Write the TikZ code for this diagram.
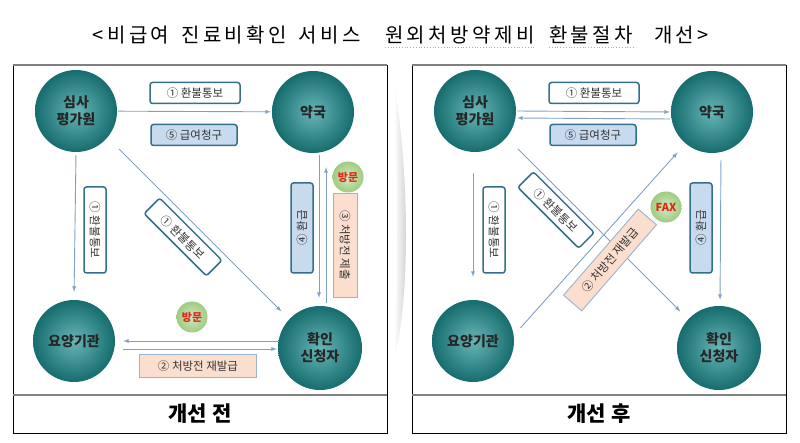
\documentclass[tikz,border=0pt]{standalone}
\usepackage{fontspec}
\setmainfont{Noto Sans CJK KR}
\usetikzlibrary{arrows}
\definecolor{orgteal}{RGB}{38,150,152}
\definecolor{orgdark}{RGB}{22,108,110}
\definecolor{tagline}{RGB}{52,112,140}
\definecolor{tagblue}{RGB}{200,218,238}
\definecolor{tagpeach}{RGB}{251,222,206}
\definecolor{flow}{RGB}{128,160,200}
\definecolor{visitgreen}{RGB}{158,204,128}
\definecolor{visitred}{RGB}{225,40,20}
\begin{document}
\begin{tikzpicture}[x=1pt, y=-1pt,
    org/.style={circle, minimum size=82pt, inner sep=0pt, inner color=orgteal!70!white, outer color=orgdark,
                font=\fontsize{14}{17}\selectfont\bfseries, text=black!85, align=center},
    tag/.style={draw=tagline, line width=1.5pt, rounded corners=2.5pt, fill=white, inner sep=0pt,
                minimum height=21pt, font=\fontsize{11.5}{12}\selectfont, text=black!80},
    pin/.style={draw=flow!80, line width=0.9pt, fill=tagpeach, inner sep=0pt,
                minimum height=23pt, font=\fontsize{11.5}{12}\selectfont, text=black!80},
    visit/.style={circle, minimum size=31pt, inner sep=0pt, inner color=visitgreen!45!white, outer color=visitgreen,
                font=\fontsize{11}{12}\selectfont\bfseries, text=visitred},
    head/.style={inner sep=0pt, font=\fontsize{20}{24}\selectfont\addfontfeature{LetterSpace=17}},
    flowline/.style={draw=flow, line width=0.9pt, -latex}]
  \useasboundingbox (0,0) rectangle (800,443);
  \node[head, anchor=east] (title) at (361,35) {<비급여\hspace{12pt}진료비확인\hspace{12pt}서비스};
  \node[head, anchor=west] (titleb) at (385,35) {원외처방약제비};
  \node[head, anchor=west] (titlec) at (549,35) {환불절차};
  \node[head, anchor=east] (titled) at (709,35) {개선>};
  \draw[orange!80, dotted, line width=0.8pt] ([yshift=-3pt]titleb.south west) -- ([yshift=-3pt]titleb.south east)
    ([yshift=-3pt]titlec.south west) -- ([yshift=-3pt]titlec.south east);
  \shade[left color=white, right color=gray!45] (394,80) .. controls (410,180) and (410,300) .. (394,360)
    .. controls (398,300) and (398,180) .. (394,80);
  \foreach \p/\lbl in {0/개선 전, 399/개선 후}{
    \draw[line width=0.8pt] (13+\p,65) rectangle (387+\p,433);
    \draw[gray, line width=1.4pt] (13+\p,65) -- (387+\p,65);
    \draw[gray, line width=1.2pt] (13+\p,395) -- (387+\p,395);
    \node[font=\fontsize{21}{24}\selectfont\bfseries] (cap\p) at (200+\p,414) {\lbl};
    \node[org] (sim\p) at (76+\p,111) {심사\\평가원};
    \node[org] (yak\p) at (313+\p,112) {약국};
    \node[org] (yoy\p) at (74+\p,341) {요양기관};
    \node[org, minimum size=84pt] (hwa\p) at (320+\p,348) {확인\\신청자};
    \node[tag, minimum width=90pt] (top\p) at (195+\p,93) {① 환불통보};
    \node[tag, minimum width=86pt, fill=tagblue] (ask\p) at (194+\p,135) {⑤ 급여청구};
    \node[tag, rotate=-90, minimum width=86pt, minimum height=22pt] (side\p) at (95+\p,230) {① 환불통보};
    \node[tag, rotate=90, minimum width=90pt, minimum height=22pt, fill=tagblue] (back\p) at (302+\p,228) {④ 환급};
  }
  \draw[flowline, shorten <=1pt, shorten >=1pt] (sim0) -- (yak0);
  \draw[flowline, shorten <=3pt, shorten >=8pt] (sim0.south) -- (yoy0.north);
  \draw[flowline, shorten <=16pt, shorten >=11pt] (sim0.-40) -- (hwa0.137);
  \draw[flowline, shorten <=2pt, shorten >=8pt] ([xshift=6pt]yak0.south) -- ([xshift=-1pt]hwa0.north);
  \draw[flowline, shorten <=3pt, shorten >=14pt] ([xshift=6pt]hwa0.north) -- ([xshift=13pt]yak0.south);
  \draw[flowline, shorten >=8pt] ([yshift=7pt]hwa0.west) -- (yoy0.east);
  \draw[flowline, shorten <=8pt, shorten >=1pt] ([yshift=-8pt]yoy0.east) -- ([yshift=-1pt]hwa0.west);
  \draw[flowline, shorten <=1pt, shorten >=1pt] (sim399.east) -- (yak399.west);
  \draw[flowline, shorten <=1pt, shorten >=1pt] ([yshift=-7pt]yak399.west) -- ([yshift=-7pt]sim399.east);
  \draw[flowline, shorten <=21pt, shorten >=23pt] ([xshift=-2pt]sim399.south) -- (yoy399.north);
  \draw[flowline, shorten <=16pt, shorten >=11pt] (sim399.-40) -- (hwa399.137);
  \draw[flowline, shorten <=10pt, shorten >=12pt] (yoy399.8) -- (yak399.230);
  \draw[flowline, shorten <=7pt, shorten >=6pt] ([xshift=9pt]yak399.south) -- ([xshift=1pt]hwa399.north);
  \node[tag, rotate=-45, minimum width=88pt, minimum height=22pt] (diag0) at (183,237) {① 환불통보};
  \node[pin, rotate=-90, minimum width=104pt, minimum height=24pt] (hand0) at (345,245) {③ 처방전 제출};
  \node[pin, minimum width=117pt] (redo0) at (198,366) {② 처방전 재발급};
  \node[visit] (visa) at (348,177) {방문};
  \node[visit] (visb) at (192,317) {방문};
  \node[tag, rotate=-45, minimum width=86pt, minimum height=22pt] (diag399) at (556,210) {① 환불통보};
  \node[pin, rotate=49, minimum width=114pt, minimum height=24pt] (redo399) at (610,260) {② 처방전 재발급};
  \node[visit] (fax) at (666,207) {FAX};
\end{tikzpicture}
\end{document}
